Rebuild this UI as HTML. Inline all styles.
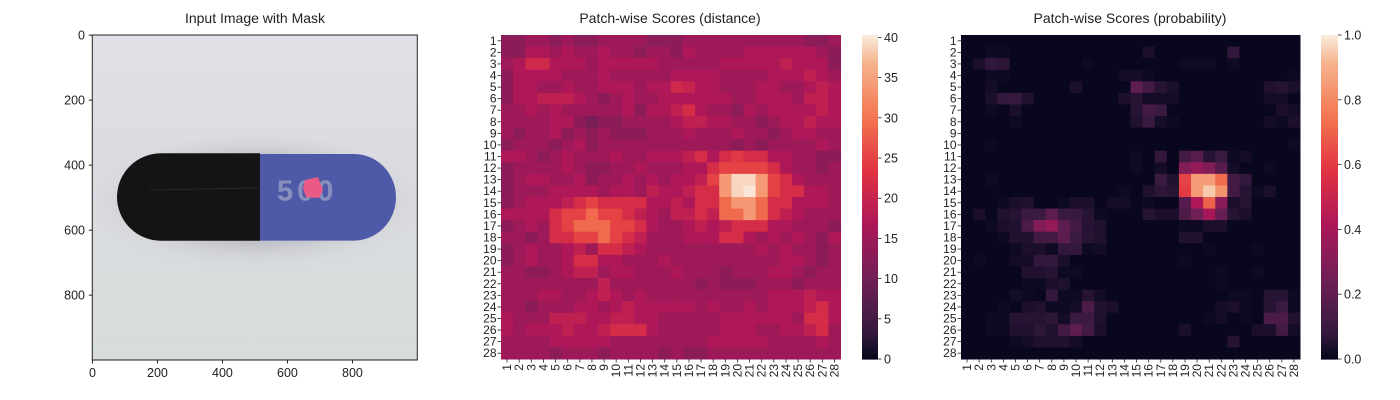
<!DOCTYPE html>
<html><head><meta charset="utf-8">
<style>
html,body{margin:0;padding:0;background:#fff;}
svg{display:block;font-family:"Liberation Sans",sans-serif;}
</style></head>
<body>
<svg id="fig" width="1400" height="400" viewBox="0 0 1400 400" xmlns="http://www.w3.org/2000/svg">
<defs>
<linearGradient id="bgGrad" x1="0" y1="0" x2="0" y2="1">
<stop offset="0" stop-color="#e0e0e6"/><stop offset="0.5" stop-color="#dadbe0"/><stop offset="1" stop-color="#d7ddda"/>
</linearGradient>
<radialGradient id="shadow" cx="0.5" cy="0.5" r="0.5">
<stop offset="0.6" stop-color="#a4a4b0" stop-opacity="0.45"/><stop offset="1" stop-color="#d6d8dc" stop-opacity="0"/>
</radialGradient>
<clipPath id="imgClip"><rect x="92.3" y="35" width="325" height="325"/></clipPath>
</defs>

<!-- Panel 1: image -->
<text x="255" y="23" font-size="14" text-anchor="middle" fill="#222">Input Image with Mask</text>
<g clip-path="url(#imgClip)">
<rect x="92.3" y="35" width="325" height="325" fill="url(#bgGrad)"/>
<ellipse cx="256" cy="200" rx="170" ry="72" fill="url(#shadow)"/>
<path d="M161,153.3 L260,153.3 L260,240.7 L161,240.7 A44,43.7 0 0 1 161,153.3 Z" fill="#151313"/>
<path d="M260,154 L354,154 A42,43.3 0 0 1 354,240.6 L260,240.6 Z" fill="#4e5aa8"/>
<path d="M150,190 L258,188" stroke="#2a2828" stroke-width="1"/>
<text x="277" y="200.5" font-size="29" font-weight="bold" fill="#8a90bd" letter-spacing="4">500</text>
<path d="M305,180 L318,177 L323,190 L319,198 L306,197 L303,188 Z" fill="#ea5a86"/>
</g>
<rect x="92.3" y="35" width="325" height="325" fill="none" stroke="#222" stroke-width="1"/>
<g id="imgAxes" font-size="12.5" fill="#222"></g>

<!-- Panel 2 -->
<text x="670" y="23" font-size="14" text-anchor="middle" fill="#222">Patch-wise Scores (distance)</text>
<g id="heatDist"></g>
<g id="cbDistG"></g>

<!-- Panel 3 -->
<text x="1130" y="23" font-size="14" text-anchor="middle" fill="#222">Patch-wise Scores (probability)</text>
<g id="heatProb"></g>
<g id="cbProbG"></g>
</svg>

<script>
const imageXTicks = [0, 200, 400, 600, 800];
const imageYTicks = [0, 200, 400, 600, 800];
const distTicks = [0, 5, 10, 15, 20, 25, 30, 35, 40];
const probTicks = [0.0, 0.2, 0.4, 0.6, 0.8, 1.0];
const distRange = [0, 40.3];
const probRange = [0, 1];

const distanceRows = [
[13,13,15,15,13,15,13,13,15,15,15,15,13,13,13,15,15,15,15,15,15,15,15,15,15,13,13,15],
[13,13,17,17,15,17,15,15,17,15,15,13,15,15,13,17,15,15,15,15,17,17,17,17,17,17,15,13],
[15,17,21,21,17,17,17,15,17,17,17,17,17,15,15,15,15,15,17,17,17,17,17,19,17,17,17,13],
[13,17,17,17,17,15,15,15,17,15,15,15,15,15,17,17,17,17,15,15,15,15,17,17,17,19,17,15],
[13,17,17,15,15,17,15,15,17,17,17,15,17,17,21,20,17,17,15,15,15,17,17,15,15,17,19,17],
[13,17,17,19,19,19,17,15,13,15,17,15,15,17,17,17,17,17,17,15,15,17,17,17,15,19,19,17],
[15,15,17,15,17,15,15,15,15,15,17,13,17,17,19,22,17,15,15,13,17,15,17,17,17,17,19,17],
[15,15,15,15,17,17,13,11,13,13,15,15,15,15,17,19,19,17,17,15,15,13,15,17,17,19,17,17],
[15,13,15,15,17,13,15,13,15,13,13,13,15,15,15,17,15,15,15,17,15,15,13,15,17,17,15,15],
[13,15,15,15,13,15,17,13,15,15,15,15,15,15,15,15,15,15,15,13,15,13,15,15,15,15,17,15],
[17,17,15,13,15,17,15,15,15,17,15,15,17,17,17,19,22,17,22,24,22,22,17,17,15,15,13,13],
[13,15,15,15,15,17,15,13,13,15,15,17,15,15,15,17,17,22,25,25,25,25,22,17,15,15,13,15],
[13,15,17,17,15,15,17,13,15,15,17,15,17,15,17,17,19,25,34,39,39,34,25,22,17,15,15,15],
[13,15,15,15,17,17,17,17,15,17,17,15,19,17,17,19,22,22,34,39,40,34,25,22,22,17,17,15],
[13,15,17,17,17,19,22,25,22,22,22,22,17,17,19,17,22,22,29,34,34,29,22,22,17,17,17,15],
[17,17,17,17,22,25,25,29,25,25,22,19,17,15,19,19,22,19,29,29,34,29,22,19,17,15,15,15],
[13,15,17,15,22,25,29,29,29,25,25,22,17,15,15,17,19,17,19,22,22,22,17,17,15,15,15,13],
[15,15,13,15,22,22,25,25,29,25,22,19,15,15,15,17,17,17,22,22,17,15,17,15,17,15,13,17],
[13,15,17,15,15,17,19,15,22,22,19,17,15,15,15,15,15,15,15,15,15,17,15,17,15,15,13,15],
[13,15,17,15,15,17,22,22,17,17,15,15,15,17,15,15,15,15,15,15,15,15,15,17,17,15,13,15],
[15,15,13,13,15,17,19,19,15,17,17,15,15,15,17,15,15,15,13,15,15,15,17,17,15,13,15,15],
[15,15,15,15,15,15,15,15,19,15,15,15,15,15,15,15,13,15,13,13,13,15,15,15,13,15,15,15],
[15,15,15,17,17,15,15,17,19,17,15,17,15,15,15,15,15,15,15,15,15,15,17,17,17,19,17,17],
[15,15,13,15,15,15,17,17,15,17,19,17,17,17,17,17,15,17,15,15,17,15,17,17,17,19,22,17],
[17,15,15,15,19,19,19,17,17,19,19,17,17,15,15,15,15,15,17,17,17,17,17,17,15,22,22,17],
[17,15,17,17,17,19,17,17,19,22,22,22,17,15,15,15,15,15,17,17,17,15,15,17,17,19,22,15],
[15,15,15,15,17,17,17,17,17,15,15,15,15,15,15,15,15,17,17,17,17,17,15,15,15,15,17,15],
[15,15,15,15,13,15,15,15,13,15,15,15,15,13,15,13,13,15,15,15,15,15,15,15,15,15,15,15]
];

const probabilityRows = [
[0.01,0.01,0.01,0.01,0.01,0.01,0.01,0.01,0.01,0.01,0.01,0.01,0.01,0.01,0.01,0.01,0.01,0.01,0.01,0.01,0.01,0.01,0.01,0.01,0.01,0.01,0.01,0.01],
[0.01,0.01,0.02,0.02,0.01,0.01,0.01,0.01,0.01,0.01,0.01,0.01,0.01,0.01,0.01,0.04,0.01,0.01,0.01,0.01,0.01,0.01,0.08,0.01,0.01,0.01,0.01,0.01],
[0.01,0.04,0.08,0.07,0.01,0.01,0.01,0.01,0.01,0.01,0.02,0.01,0.01,0.01,0.01,0.01,0.01,0.01,0.02,0.02,0.02,0.01,0.02,0.01,0.01,0.01,0.01,0.01],
[0.01,0.01,0.02,0.02,0.01,0.01,0.01,0.01,0.01,0.01,0.01,0.01,0.01,0.03,0.03,0.02,0.01,0.01,0.01,0.01,0.01,0.01,0.01,0.01,0.01,0.01,0.01,0.02],
[0.01,0.01,0.03,0.01,0.01,0.01,0.01,0.01,0.01,0.04,0.01,0.01,0.01,0.01,0.20,0.12,0.06,0.04,0.01,0.01,0.01,0.01,0.01,0.01,0.01,0.05,0.06,0.04],
[0.01,0.01,0.04,0.08,0.09,0.05,0.01,0.01,0.01,0.01,0.01,0.01,0.01,0.04,0.06,0.03,0.03,0.03,0.01,0.01,0.01,0.01,0.01,0.01,0.01,0.03,0.03,0.01],
[0.01,0.01,0.02,0.01,0.04,0.01,0.01,0.01,0.01,0.01,0.01,0.01,0.01,0.01,0.06,0.12,0.10,0.01,0.01,0.01,0.01,0.01,0.01,0.01,0.01,0.01,0.04,0.03],
[0.01,0.01,0.01,0.01,0.02,0.01,0.01,0.01,0.01,0.01,0.01,0.01,0.01,0.01,0.05,0.10,0.03,0.02,0.01,0.01,0.01,0.01,0.01,0.01,0.01,0.03,0.02,0.04],
[0.01,0.01,0.01,0.01,0.01,0.01,0.01,0.01,0.01,0.01,0.01,0.01,0.01,0.01,0.01,0.01,0.01,0.01,0.01,0.01,0.01,0.01,0.01,0.01,0.01,0.01,0.01,0.01],
[0.01,0.01,0.02,0.01,0.01,0.01,0.01,0.01,0.01,0.01,0.01,0.01,0.01,0.01,0.01,0.01,0.01,0.01,0.01,0.01,0.01,0.01,0.01,0.01,0.01,0.01,0.01,0.02],
[0.01,0.01,0.01,0.01,0.01,0.01,0.01,0.01,0.01,0.01,0.01,0.01,0.01,0.01,0.02,0.01,0.08,0.01,0.12,0.18,0.06,0.10,0.02,0.03,0.01,0.01,0.01,0.01],
[0.01,0.01,0.01,0.01,0.01,0.01,0.01,0.01,0.01,0.01,0.01,0.01,0.01,0.01,0.02,0.01,0.03,0.01,0.30,0.35,0.30,0.18,0.03,0.01,0.01,0.02,0.01,0.01],
[0.01,0.01,0.02,0.01,0.01,0.01,0.01,0.01,0.01,0.01,0.01,0.01,0.01,0.01,0.01,0.01,0.10,0.05,0.62,0.85,0.85,0.72,0.12,0.08,0.01,0.01,0.01,0.01],
[0.01,0.01,0.01,0.01,0.01,0.01,0.01,0.01,0.01,0.01,0.01,0.01,0.01,0.02,0.01,0.05,0.07,0.06,0.60,0.85,0.95,0.83,0.12,0.06,0.02,0.04,0.01,0.01],
[0.01,0.01,0.01,0.02,0.04,0.05,0.01,0.01,0.02,0.04,0.04,0.01,0.03,0.03,0.01,0.02,0.01,0.01,0.18,0.42,0.70,0.32,0.04,0.06,0.01,0.01,0.01,0.01],
[0.01,0.04,0.01,0.05,0.06,0.10,0.10,0.20,0.10,0.09,0.06,0.02,0.01,0.01,0.01,0.06,0.04,0.04,0.15,0.25,0.40,0.22,0.06,0.04,0.01,0.01,0.01,0.01],
[0.01,0.01,0.02,0.04,0.05,0.15,0.30,0.35,0.20,0.12,0.06,0.05,0.01,0.01,0.01,0.01,0.01,0.01,0.02,0.02,0.04,0.04,0.01,0.01,0.01,0.01,0.01,0.01],
[0.01,0.01,0.01,0.02,0.05,0.05,0.12,0.12,0.20,0.10,0.06,0.05,0.01,0.01,0.01,0.01,0.01,0.01,0.05,0.05,0.01,0.01,0.01,0.01,0.01,0.01,0.01,0.01],
[0.01,0.01,0.01,0.01,0.02,0.04,0.04,0.02,0.08,0.08,0.02,0.03,0.01,0.01,0.01,0.01,0.01,0.01,0.01,0.01,0.02,0.01,0.01,0.01,0.02,0.01,0.01,0.01],
[0.01,0.02,0.01,0.01,0.03,0.03,0.08,0.08,0.04,0.01,0.01,0.01,0.01,0.01,0.01,0.01,0.01,0.01,0.02,0.01,0.01,0.01,0.01,0.01,0.01,0.01,0.01,0.01],
[0.01,0.01,0.01,0.01,0.01,0.05,0.05,0.06,0.02,0.02,0.01,0.01,0.01,0.01,0.01,0.01,0.01,0.01,0.01,0.01,0.01,0.02,0.01,0.01,0.02,0.01,0.01,0.01],
[0.01,0.01,0.01,0.01,0.01,0.02,0.02,0.04,0.05,0.01,0.01,0.01,0.01,0.01,0.01,0.01,0.01,0.01,0.01,0.01,0.01,0.02,0.01,0.01,0.01,0.01,0.01,0.01],
[0.01,0.01,0.01,0.01,0.03,0.02,0.01,0.08,0.02,0.02,0.06,0.03,0.01,0.01,0.01,0.01,0.01,0.01,0.01,0.01,0.01,0.01,0.02,0.02,0.01,0.06,0.06,0.02],
[0.01,0.01,0.01,0.02,0.01,0.04,0.05,0.02,0.02,0.03,0.15,0.05,0.04,0.01,0.01,0.01,0.01,0.01,0.01,0.01,0.01,0.03,0.04,0.02,0.01,0.06,0.10,0.02],
[0.01,0.01,0.02,0.02,0.06,0.06,0.06,0.07,0.03,0.10,0.10,0.05,0.01,0.01,0.01,0.01,0.01,0.01,0.01,0.01,0.02,0.03,0.01,0.02,0.01,0.15,0.15,0.05],
[0.01,0.01,0.02,0.02,0.05,0.05,0.07,0.05,0.12,0.20,0.12,0.04,0.01,0.01,0.01,0.01,0.01,0.01,0.04,0.01,0.01,0.01,0.01,0.01,0.04,0.04,0.12,0.03],
[0.01,0.01,0.01,0.01,0.02,0.03,0.05,0.05,0.05,0.03,0.01,0.01,0.01,0.01,0.01,0.01,0.01,0.01,0.01,0.01,0.01,0.01,0.06,0.01,0.01,0.01,0.01,0.01],
[0.01,0.01,0.01,0.01,0.01,0.01,0.01,0.01,0.01,0.01,0.01,0.01,0.01,0.01,0.01,0.01,0.01,0.01,0.01,0.01,0.01,0.01,0.01,0.01,0.01,0.01,0.01,0.01]
];

const NS = "http://www.w3.org/2000/svg";
const rocketStops = [[0,[3,5,26]],[0.083,[53,25,62]],[0.25,[112,31,87]],[0.417,[173,23,89]],[0.583,[225,51,66]],[0.75,[243,118,81]],[0.917,[246,180,143]],[1,[250,235,221]]];
function rocket(t){
  t=Math.max(0,Math.min(1,t));
  for(let i=1;i<rocketStops.length;i++){
    if(t<=rocketStops[i][0]){
      const [a,ca]=rocketStops[i-1],[b,cb]=rocketStops[i];
      const f=(t-a)/(b-a);
      return "rgb("+ca.map((v,k)=>Math.round(v+(cb[k]-v)*f)).join(",")+")";
    }
  }
  return "rgb(250,235,221)";
}
function mk(tag,attrs,parent){const e=document.createElementNS(NS,tag);for(const k in attrs)e.setAttribute(k,attrs[k]);parent.appendChild(e);return e;}

// image axes ticks
(function(){
  const g=document.getElementById("imgAxes");
  const x0=92.3,y0=35,s=0.325;
  const xs=v=>x0+(v+0.5)*s, ys=v=>y0+(v+0.5)*s;
  imageXTicks.forEach(v=>{
    const l=mk("line",{x1:xs(v),x2:xs(v),y1:360,y2:363.5,stroke:"#222"},g);
    
    
    const t=mk("text",{x:xs(v),y:377,"text-anchor":"middle"},g);t.textContent=v;
    
    
  });
  imageYTicks.forEach(v=>{
    const l=mk("line",{x1:88.8,x2:92.3,y1:ys(v),y2:ys(v),stroke:"#222"},g);
    
    
    const t=mk("text",{x:85,y:ys(v)+4.5,"text-anchor":"end"},g);t.textContent=v;
    
    
  });
})();

function heatmap(gid,rows,range,x0,x1,y0,y1){
  const g=document.getElementById(gid);
  const n=rows.length, m=rows[0].length;
  const cw=(x1-x0)/m, ch=(y1-y0)/n;
  const xScale=j=>x0+j*cw, yScale=i=>y0+i*ch;
  rows.forEach((row,i)=>row.forEach((v,j)=>{
    const r=mk("rect",{x:xScale(j),y:yScale(i),width:cw+0.5,height:ch+0.5,fill:rocket((v-range[0])/(range[1]-range[0]))},g);
    
    
  }));
  for(let i=0;i<n;i++){
    const yc=yScale(i)+ch/2;
    mk("line",{x1:x0-3.5,x2:x0,y1:yc,y2:yc,stroke:"#222","stroke-width":0.8},g);
    const t=mk("text",{x:x0-4.5,y:yc+4,"text-anchor":"end","font-size":"12",fill:"#222"},g);t.textContent=i+1;
    
    
  }
  for(let j=0;j<m;j++){
    const xc=xScale(j)+cw/2;
    mk("line",{x1:xc,x2:xc,y1:y1,y2:y1+3.5,stroke:"#222","stroke-width":0.8},g);
    const t=mk("text",{x:xc+4,y:y1+5,"text-anchor":"end","font-size":"12",fill:"#222",transform:"rotate(-90 "+(xc+4)+" "+(y1+5)+")"},g);t.textContent=j+1;
    
    
  }
}
function colorbar(gid,ticks,range,x0,x1,y0,y1,fmt){
  const g=document.getElementById(gid);
  const steps=120;
  for(let k=0;k<steps;k++){
    const t=k/steps;
    mk("rect",{x:x0,y:y1-(k+1)*(y1-y0)/steps,width:x1-x0,height:(y1-y0)/steps+0.6,fill:rocket(t+0.5/steps)},g);
  }
  const ys=v=>y1-(v-range[0])/(range[1]-range[0])*(y1-y0);
  ticks.forEach(v=>{
    mk("line",{x1:x1,x2:x1+3.5,y1:ys(v),y2:ys(v),stroke:"#222","stroke-width":0.8},g);
    const t=mk("text",{x:x1+6,y:ys(v)+4.5,"font-size":"12.5",fill:"#222"},g);t.textContent=fmt(v);
    
    
  });
}
heatmap("heatDist",distanceRows,distRange,501,840.5,35,359);
heatmap("heatProb",probabilityRows,probRange,961,1300,35,359);
colorbar("cbDistG",distTicks,distRange,862,878,35,359,v=>String(v));
colorbar("cbProbG",probTicks,probRange,1321,1338,35,359,v=>v.toFixed(1));
</script>
</body></html>
